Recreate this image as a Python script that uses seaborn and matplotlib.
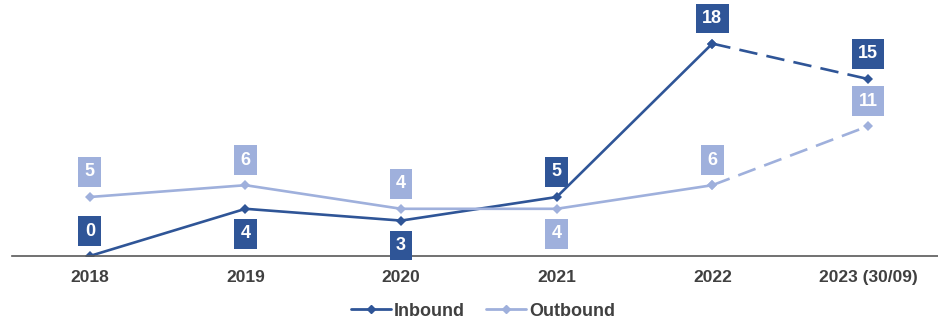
import matplotlib
matplotlib.use("Agg")
import matplotlib.pyplot as plt
import seaborn as sns
import pandas as pd

years = ["2018", "2019", "2020", "2021", "2022", "2023 (30/09)"]
inbound = [0, 4, 3, 5, 18, 15]
outbound = [5, 6, 4, 4, 6, 11]
# label placement for each point: +1 above the marker, -1 below
inbound_pos = [1, -1, -1, 1, 1, 1]
outbound_pos = [1, 1, 1, -1, 1, 1]

dark = "#2F5597"
light = "#9FB0DC"
text_grey = "#404040"

sns.set_theme(style="white")
plt.rcParams["font.family"] = ["Liberation Sans", "DejaVu Sans"]

fig = plt.figure(figsize=(9.38, 3.2), dpi=100)
ax = fig.add_axes([12 / 938, 0.2, 926 / 938, 0.7375])

idx = list(range(len(years)))
rows = []
for name, vals in (("Inbound", inbound), ("Outbound", outbound)):
    for i, v in zip(idx, vals):
        rows.append({"x": i, "value": v, "series": name})
df = pd.DataFrame(rows)

palette = {"Inbound": dark, "Outbound": light}
solid = df[df["x"] <= 4]
dashed = df[df["x"] >= 4]

sns.lineplot(data=solid, x="x", y="value", hue="series", palette=palette,
             marker="D", markersize=5, markeredgewidth=0, linewidth=1.9,
             ax=ax, legend=False)
sns.lineplot(data=dashed, x="x", y="value", hue="series", palette=palette,
             marker="D", markersize=5, markeredgewidth=0, linewidth=1.9,
             dashes=False, ax=ax, legend=False)
for line in ax.lines[-2:]:
    line.set_linestyle((0, (7, 3.5)))

# value tags
for vals, pos, col in ((inbound, inbound_pos, dark), (outbound, outbound_pos, light)):
    for i, (v, p) in enumerate(zip(vals, pos)):
        ax.annotate(str(v), xy=(i, v), xytext=(0, 18 * p), textcoords="offset points",
                    ha="center", va="center", color="white", fontsize=13,
                    fontweight="bold", annotation_clip=False,
                    bbox=dict(boxstyle="square,pad=0.35", fc=col, ec="none"))

ax.set_xlim(-0.5, 5.45)
ax.set_ylim(0, 20)
ax.set_xticks(idx)
ax.set_xticklabels(years, fontsize=12.5, fontweight="bold", color=text_grey)
ax.set_yticks([])
ax.set_xlabel("")
ax.set_ylabel("")
ax.tick_params(axis="x", length=0, pad=10)
for side in ("top", "right", "left"):
    ax.spines[side].set_visible(False)
ax.spines["bottom"].set_color("#595959")
ax.spines["bottom"].set_linewidth(1.2)

handles = [
    plt.Line2D([], [], color=dark, lw=2, marker="D", markersize=4),
    plt.Line2D([], [], color=light, lw=2, marker="D", markersize=4),
]
leg = fig.legend(handles, ["Inbound", "Outbound"], loc="center",
                 bbox_to_anchor=(0.515, 0.028), ncol=2, frameon=False,
                 handlelength=2.2, columnspacing=1.2, handletextpad=0.15,
                 prop={"size": 13, "weight": "bold"})
for t in leg.get_texts():
    t.set_color(text_grey)

fig.savefig("out.png", dpi=100)
